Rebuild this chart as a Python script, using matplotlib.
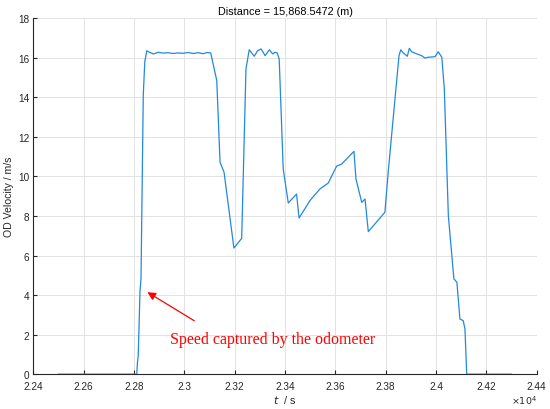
import numpy as np
import matplotlib
matplotlib.use('Agg')
import matplotlib.pyplot as plt

# time (s) and odometer velocity (m/s)
t_s = [22500, 22811, 22814, 22817, 22824, 22828, 22833, 22837, 22843, 22851,
       22862, 22877, 22897, 22915, 22935, 22955, 22975, 22995, 23015, 23035,
       23055, 23075, 23090, 23105, 23129, 23142, 23158, 23197, 23228, 23245,
       23258, 23278, 23291, 23305, 23312, 23321, 23338, 23351, 23360, 23369,
       23377, 23393, 23413, 23446, 23456, 23499, 23539, 23572, 23605, 23625,
       23674, 23682, 23705, 23718, 23731, 23797, 23810, 23837, 23853, 23860,
       23870, 23886, 23894, 23903, 23920, 23943, 23956, 23969, 23996, 24009,
       24023, 24033, 24049, 24071, 24083, 24095, 24108, 24115, 24122, 24300]
v_ms = [0.0, 0.0, 0.6, 0.95, 4.2, 4.82, 10.0, 14.1, 15.8, 16.36,
        16.28, 16.2, 16.28, 16.24, 16.26, 16.22, 16.25, 16.23, 16.27, 16.22,
        16.26, 16.21, 16.27, 16.25, 14.85, 10.72, 10.21, 6.38, 6.87, 15.44,
        16.41, 16.08, 16.36, 16.45, 16.31, 16.11, 16.41, 16.2, 16.28, 16.25,
        15.94, 10.38, 8.66, 9.11, 7.9, 8.78, 9.37, 9.67, 10.52, 10.63,
        11.27, 9.87, 8.69, 8.86, 7.21, 8.19, 10.21, 13.92, 16.11, 16.41,
        16.25, 16.08, 16.48, 16.31, 16.22, 16.11, 15.99, 16.03, 16.06, 16.31,
        16.03, 14.43, 8.02, 4.82, 4.65, 2.79, 2.71, 2.29, 0.0, 0.0]

x_ticks = np.arange(22400, 24401, 200)
y_ticks = np.arange(0, 19, 2)
title = 'Distance = 15,868.5472 (m)'
note = 'Speed captured by the odometer'

plt.rcParams['font.family'] = ['Liberation Sans', 'DejaVu Sans']
dark = '#262626'

fig = plt.figure(figsize=(5.5, 4.1), dpi=100)
ax = fig.add_axes([0.0605, 0.0849, 0.9153, 0.868])

ax.plot(t_s, v_ms, color='#2189de', lw=0.9)

ax.set_xlim(22400, 24400)
ax.set_ylim(0, 18)
ax.set_xticks(x_ticks)
ax.set_xticklabels(['%g' % (x / 1e4) for x in x_ticks])
ax.set_yticks(y_ticks)
ax.grid(True, color='#e3e3e3', lw=0.7)
ax.set_axisbelow(True)

for s in ['top', 'right']:
    ax.spines[s].set_visible(False)
for s in ['left', 'bottom']:
    ax.spines[s].set_color(dark)
    ax.spines[s].set_linewidth(0.8)
ax.tick_params(direction='in', length=3, width=0.8, color=dark,
               labelcolor=dark, labelsize=7.2)
ax.tick_params(axis='x', pad=5)
ax.tick_params(axis='y', pad=3)

ax.set_title(title, fontsize=7.8, color='black', pad=3)
ax.set_xlabel('$t$  / s', fontsize=7.8, color=dark, labelpad=1)
ax.set_ylabel('OD Velocity / m/s', fontsize=7.6, color=dark, labelpad=3)
ax.text(1.0, -0.073, r'$\times10^4$', transform=ax.transAxes, ha='right',
        va='center', fontsize=6.8, color=dark)

# arrow and red note
ax.annotate('', xy=(22844, 4.22), xytext=(23049, 2.63),
            arrowprops=dict(arrowstyle='-|>', color='red', lw=0.9,
                            mutation_scale=12))
ax.text(22943, 1.78, note, color='red', fontsize=11.5,
        family='Liberation Serif', ha='left', va='center')

fig.savefig('out.png', dpi=100)
